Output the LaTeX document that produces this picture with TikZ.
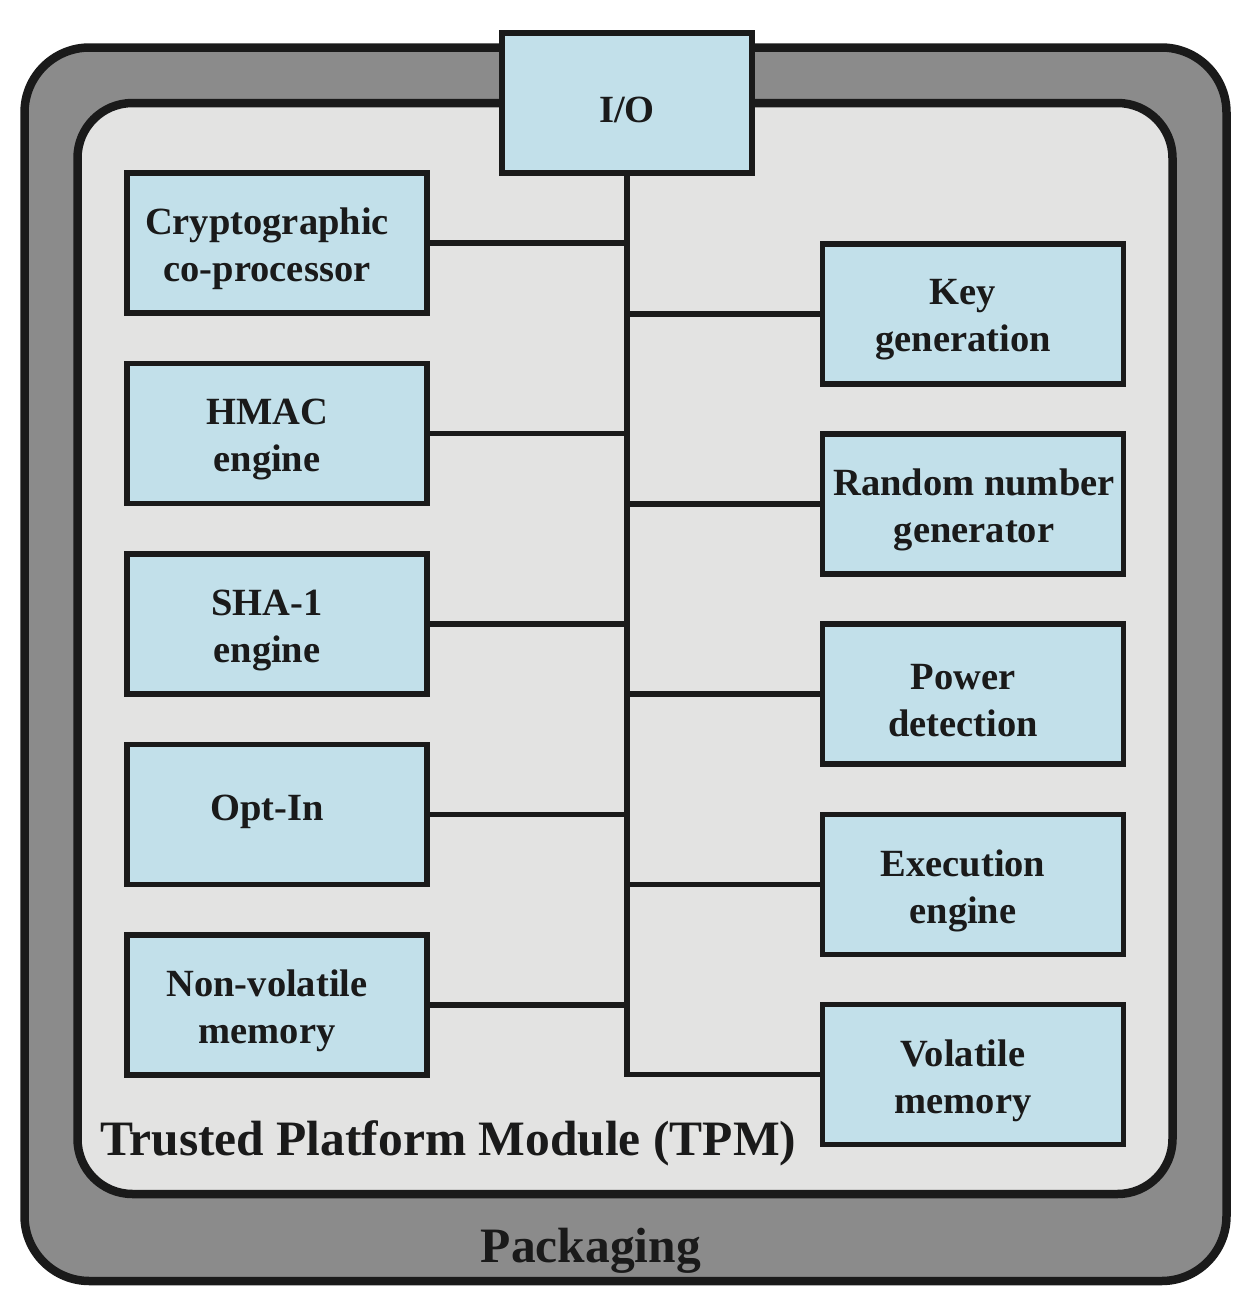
\documentclass[tikz,border=0pt]{standalone}
\usepackage{fontspec}
\setmainfont{Liberation Serif}
\definecolor{boxblue}{RGB}{194,224,234}
\definecolor{innergray}{RGB}{227,227,226}
\definecolor{outergray}{RGB}{139,139,139}
\definecolor{ink}{RGB}{26,26,26}
\tikzset{
  unitbox/.style={draw=ink, fill=boxblue, line width=5.5pt, rectangle, inner sep=0pt},
  leftbox/.style={unitbox, minimum width=300pt, minimum height=140pt},
  rightbox/.style={unitbox, minimum width=301pt, minimum height=140pt},
  boxtext/.style={text=ink, align=center, inner sep=0pt, font=\fontsize{38.5}{47}\selectfont\bfseries},
  bigtext/.style={text=ink, inner sep=0pt, font=\fontsize{49.5}{58}\selectfont\bfseries},
  wire/.style={draw=ink, line width=5.5pt}
}
\begin{document}
\begin{tikzpicture}[x=1pt,y=-1pt]
\useasboundingbox (0,0) rectangle (1250,1310);
% packaging and TPM outlines
\draw[draw=ink, fill=outergray, line width=8.5pt, rounded corners=65pt] (24.5,47.5) rectangle (1226.5,1281);
\draw[draw=ink, fill=innergray, line width=8.5pt, rounded corners=55pt] (77.5,103) rectangle (1172.5,1194);
% I/O
\node[unitbox, minimum width=250pt, minimum height=140pt] (io) at (627,103) {};
\node[boxtext] (io-t) at ([yshift=-6.5pt]io.center) {I/O};
% left column
\node[leftbox] (crypto) at (277,243.2) {};
\node[leftbox] (hmac)   at (277,433.6) {};
\node[leftbox] (sha)    at (277,624) {};
\node[leftbox] (optin)  at (277,814.4) {};
\node[leftbox] (nvm)    at (277,1004.8) {};
% right column
\node[rightbox] (keygen) at (973,313.8) {};
\node[rightbox] (rng)    at (973,504) {};
\node[rightbox] (power)  at (973,694.2) {};
\node[rightbox] (exec)   at (973,884.4) {};
\node[rightbox] (vm)     at (973,1074.6) {};
% connectors
\draw[wire] (io.south) |- (vm.west);
\foreach \b in {crypto,hmac,sha,optin,nvm}{
  \draw[wire] (\b.east) -- (\b.east -| io.south);
}
\foreach \b in {keygen,rng,power,exec}{
  \draw[wire] (\b.west) -- (\b.west -| io.south);
}
% labels
\node[boxtext] (crypto-t) at ([xshift=-10pt,yshift=-6pt]crypto.center) {Cryptographic\\co-processor};
\node[boxtext] (hmac-t)   at ([xshift=-10pt,yshift=-6pt]hmac.center) {HMAC\\engine};
\node[boxtext] (sha-t)    at ([xshift=-10pt,yshift=-6pt]sha.center) {SHA-1\\engine};
\node[boxtext] (optin-t)  at ([xshift=-10pt,yshift=3pt]optin.center) {Opt-In};
\node[boxtext] (nvm-t)    at ([xshift=-10pt,yshift=-6pt]nvm.center) {Non-volatile\\memory};
\node[boxtext] (keygen-t) at ([xshift=-10pt,yshift=-6pt]keygen.center) {Key\\generation};
\node[boxtext] (rng-t)    at ([xshift=1pt,yshift=-6pt]rng.center) {Random number\\generator};
\node[boxtext] (power-t)  at ([xshift=-10pt,yshift=-6pt]power.center) {Power\\detection};
\node[boxtext] (exec-t)   at ([xshift=-10pt,yshift=-6pt]exec.center) {Execution\\engine};
\node[boxtext] (vm-t)     at ([xshift=-10pt,yshift=-6pt]vm.center) {Volatile\\memory};
\node[bigtext, anchor=base west] (tpm-t) at (100,1155) {Trusted Platform Module (TPM)};
\node[bigtext, anchor=base] (pack-t) at (591,1262) {Packaging};
\end{tikzpicture}
\end{document}
